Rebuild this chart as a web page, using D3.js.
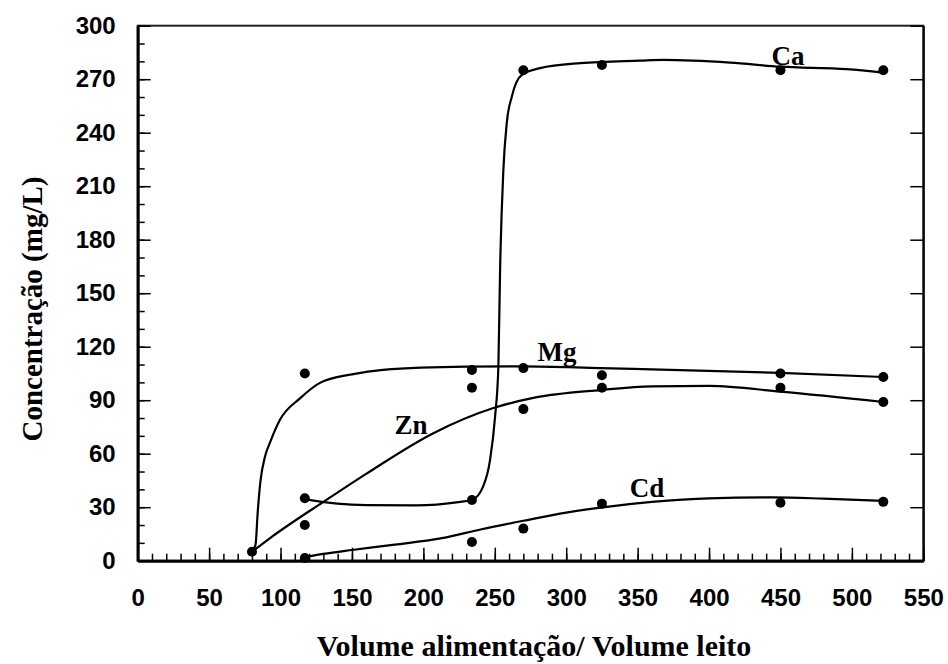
<!DOCTYPE html>
<html>
<head>
<meta charset="utf-8">
<script src="https://cdn.jsdelivr.net/npm/d3@7"></script>
<style>
  body { margin: 0; background: #fff; }
  svg { display: block; }
  .lbl { font-family: Liberation Serif; font-weight: bold; fill: #000; }
  .num { font-family: Liberation Sans; font-weight: bold; font-size: 24px; fill: #000; }
</style>
</head>
<body>
<div id="chart"></div>
<script>
// measured points
var caPts = [[80, 5], [117, 35], [234, 34], [270, 275], [325, 278], [450, 275], [522, 275]];
var mgPts = [[117, 105], [234, 107], [270, 108], [325, 104], [450, 105], [522, 103]];
var znPts = [[117, 20], [234, 97], [270, 85], [325, 97], [450, 97], [522, 89]];
var cdPts = [[117, 1.5], [234, 10.5], [270, 18], [325, 32], [450, 32.5], [522, 33]];

// fitted curves
var caFit = [[117, 35], [121, 34], [160, 31.2], [195, 31], [226, 33], [234, 34], [241.8, 41.5], [246.7, 56.5],
  [250.2, 80.8], [252.5, 108.8], [253.7, 163], [256, 219], [258.4, 245.5], [261.9, 260.2], [268.9, 272.4],
  [281.7, 276.2], [310, 279], [351.7, 280.4], [368, 280.8], [414.8, 279.3], [449.8, 277], [496.5, 275.6], [522, 273.7]];
var mgFit = [[80, 5], [82.5, 9], [84, 27], [86, 45], [89, 58], [93, 67], [99.6, 79], [113.6, 91],
  [127.6, 99.7], [150, 104.5], [171.7, 107], [230, 108.8], [270, 109], [324, 108], [450, 105.3], [522, 103]];
var znFit = [[80, 5], [92.7, 12.7], [130, 33], [160.5, 49], [207, 71.5], [249, 85.6], [277, 91.3],
  [324, 95.7], [360, 97.8], [400, 98], [450, 94.8], [522, 89]];
var cdFit = [[117, 2], [130, 3.8], [150, 6], [180, 9], [212, 12.5], [240, 17.5], [270, 22.4], [300, 27],
  [324, 29.8], [360, 33], [400, 35], [445, 35.5], [480, 34.8], [522, 33.5]];

var labels = [["Ca", 788, 278], ["Mg", 557, 112], ["Zn", 411, 71], ["Cd", 647, 36]];

var xTicks = d3.range(0, 551, 50);
var yTicks = d3.range(0, 301, 30);

var width = 948, height = 664;
var x = d3.scaleLinear().domain([0, 550]).range([137.7, 923.3]);
var y = d3.scaleLinear().domain([0, 300]).range([560.7, 25.7]);

var svg = d3.select('#chart').append('svg')
  .attr('width', width)
  .attr('height', height);

// frame
svg.append('rect')
  .attr('x', x(0)).attr('y', y(300))
  .attr('width', x(550) - x(0)).attr('height', y(0) - y(300))
  .attr('fill', 'none').attr('stroke', '#222').attr('stroke-width', 2);

// minor ticks
svg.append('g')
  .attr('transform', 'translate(0,' + y(0) + ')')
  .call(d3.axisBottom(x).tickValues(d3.range(0, 551, 10)).tickSize(-7).tickFormat(''))
  .call(function (g) { g.select('.domain').remove(); g.selectAll('line').attr('stroke-width', 1.5); });
svg.append('g')
  .attr('transform', 'translate(' + x(0) + ',0)')
  .call(d3.axisLeft(y).tickValues(d3.range(0, 301, 10)).tickSize(-7).tickFormat(''))
  .call(function (g) { g.select('.domain').remove(); g.selectAll('line').attr('stroke-width', 1.5); });

function styleAxis(g) {
  g.attr('font-family', null).attr('font-size', null);
  g.select('.domain').attr('stroke-width', 3);
  g.selectAll('line').attr('stroke-width', 1.5);
  g.selectAll('text').attr('class', 'num').attr('fill', null);
}

// major axes
svg.append('g')
  .attr('transform', 'translate(0,' + y(0) + ')')
  .call(d3.axisBottom(x).tickValues(xTicks).tickSizeInner(-13).tickSizeOuter(0).tickPadding(28))
  .call(styleAxis);
svg.append('g')
  .attr('transform', 'translate(' + x(0) + ',0)')
  .call(d3.axisLeft(y).tickValues(yTicks).tickSizeInner(-13).tickSizeOuter(0).tickPadding(22))
  .call(styleAxis);
svg.append('g')
  .attr('transform', 'translate(' + x(550) + ',0)')
  .call(d3.axisRight(y).tickValues(yTicks).tickSizeInner(-13).tickSizeOuter(0).tickFormat(''))
  .call(function (g) {
    g.select('.domain').attr('stroke-width', 2);
    g.selectAll('line').attr('stroke-width', 1.5);
  });

// curves
var line = d3.line()
  .x(function (d) { return x(d[0]); })
  .y(function (d) { return y(d[1]); })
  .curve(d3.curveMonotoneX);

[caFit, mgFit, znFit, cdFit].forEach(function (f) {
  svg.append('path')
    .datum(f)
    .attr('d', line)
    .attr('fill', 'none')
    .attr('stroke', '#000')
    .attr('stroke-width', 2.2);
});

// markers
var allPts = caPts.concat(mgPts, znPts, cdPts);
svg.append('g').selectAll('circle')
  .data(allPts)
  .enter().append('circle')
  .attr('cx', function (d) { return x(d[0]); })
  .attr('cy', function (d) { return y(d[1]); })
  .attr('r', 5)
  .attr('fill', '#000');

// series labels
svg.append('g').selectAll('text')
  .data(labels)
  .enter().append('text')
  .attr('class', 'lbl')
  .attr('x', function (d) { return d[1]; })
  .attr('y', function (d) { return y(d[2]); })
  .attr('text-anchor', 'middle')
  .style('font-size', '27px')
  .text(function (d) { return d[0]; });

// axis titles
svg.append('text')
  .attr('class', 'lbl')
  .attr('x', 534).attr('y', 656)
  .attr('text-anchor', 'middle')
  .style('font-size', '30px')
  .text('Volume alimentação/ Volume leito');

svg.append('text')
  .attr('class', 'lbl')
  .attr('transform', 'translate(42,309) rotate(-90)')
  .attr('text-anchor', 'middle')
  .style('font-size', '29px')
  .text('Concentração (mg/L)');
</script>
</body>
</html>
